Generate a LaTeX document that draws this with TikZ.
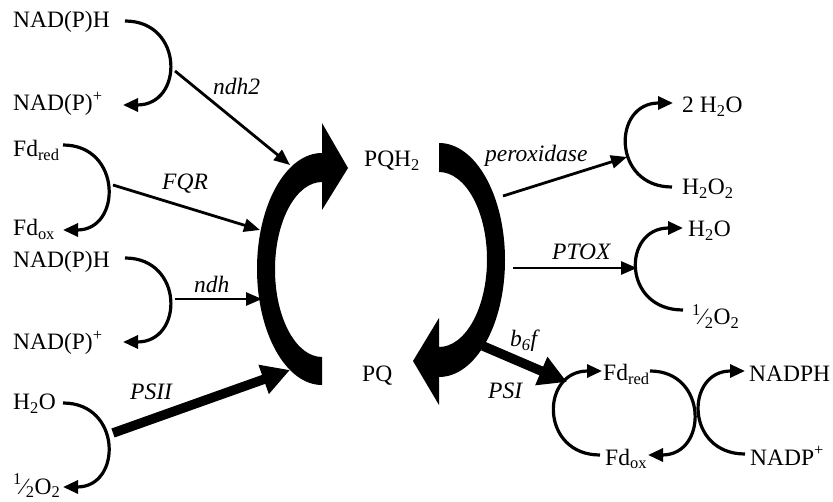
\documentclass[tikz,border=0pt]{standalone}
\usepackage{fontspec}
\setmainfont{Liberation Serif}
\usetikzlibrary{arrows.meta}
\begin{document}
\begin{tikzpicture}[x=1pt,y=-1pt,
  txt/.style={inner sep=0pt, anchor=base west, font=\fontsize{23.5}{27}\selectfont},
  lbl/.style={txt, font=\fontsize{23.5}{27}\selectfont\itshape},
  curvearrow/.style={line width=3.2pt, -{Triangle[length=15pt,width=13pt]}},
  thinarrow/.style={line width=2.8pt, -{Triangle[length=16pt,width=13pt]}},
  thickarrow/.style={line width=9.5pt, -{Triangle[length=28pt,width=29pt]}},
  bigarc/.style={fill=black, draw=none}]
\useasboundingbox (0,0) rectangle (833,502);
% left texts
\node[txt] (nadphA) at (13,28) {NAD(P)H};
\node[txt] (nadpA) at (13,111) {NAD(P)\textsuperscript{+}};
\node[txt] (fdredA) at (13,157) {Fd\textsubscript{red}};
\node[txt] (fdoxA) at (13,236) {Fd\textsubscript{ox}};
\node[txt] (nadphB) at (13,268) {NAD(P)H};
\node[txt] (nadpB) at (13,350) {NAD(P)\textsuperscript{+}};
\node[txt] (h2oA) at (13,410) {H\textsubscript{2}O};
\node[txt] (o2A) at (13,494) {\textsuperscript{1}⁄\textsubscript{2}O\textsubscript{2}};
% centre
\node[txt] (pqh2) at (364,167) {PQH\textsubscript{2}};
\node[txt] (pq) at (362,382) {PQ};
% right texts
\node[txt] (twoh2o) at (682,113) {2 H\textsubscript{2}O};
\node[txt] (h2o2) at (682,195) {H\textsubscript{2}O\textsubscript{2}};
\node[txt] (h2oB) at (688,237) {H\textsubscript{2}O};
\node[txt] (o2B) at (692,325) {\textsuperscript{1}⁄\textsubscript{2}O\textsubscript{2}};
\node[txt] (fdredB) at (603,381) {Fd\textsubscript{red}};
\node[txt] (fdoxB) at (605,465) {Fd\textsubscript{ox}};
\node[txt] (nadph) at (749,382) {NADPH};
\node[txt] (nadp) at (750,465) {NADP\textsuperscript{+}};
% enzyme labels
\node[lbl] (lndhtwo) at (213,95) {ndh2};
\node[lbl] (lfqr) at (162,190) {FQR};
\node[lbl] (lndh) at (194,293) {ndh};
\node[lbl] (lpsii) at (130,400) {PSII};
\node[lbl] (lperox) at (485,162) {peroxidase};
\node[lbl] (lptox) at (552,260) {PTOX};
\node[lbl] (lbsixf) at (510,347) {b\textsubscript{6}f};
\node[lbl] (lpsi) at (488,399) {PSI};
% curve end points
\coordinate (a1) at (125,21);  \coordinate (a2) at (123,105);
\coordinate (b1) at (63,145);  \coordinate (b2) at (63,230);
\coordinate (c1) at (125,258); \coordinate (c2) at (123,342);
\coordinate (d1) at (63,403);  \coordinate (d2) at (63,487);
\coordinate (e1) at (672,187); \coordinate (e2) at (673,103);
\coordinate (f1) at (683,310); \coordinate (f2) at (683,228);
\coordinate (g1) at (600,455); \coordinate (g2) at (602,371);
\coordinate (h1) at (650,371); \coordinate (h2) at (648,455);
\coordinate (i1) at (745,454); \coordinate (i2) at (745,371);
% enzyme arrow ends
\coordinate (ndhtwoS) at (175,71);  \coordinate (ndhtwoE) at (290,165);
\coordinate (fqrS) at (113,185);    \coordinate (fqrE) at (260,230);
\coordinate (ndhS) at (175,299);    \coordinate (ndhE) at (262,299);
\coordinate (psiiS) at (113,433);   \coordinate (psiiE) at (290,370);
\coordinate (peroxS) at (503,196);  \coordinate (peroxE) at (627,157);
\coordinate (ptoxS) at (513,268);   \coordinate (ptoxE) at (637,268);
\coordinate (psiS) at (483,346);    \coordinate (psiE) at (567,382);
% left small curves
\draw[curvearrow] (a1) .. controls (184,21) and (184,105) .. (a2);
\draw[curvearrow] (b1) .. controls (122,145) and (122,230) .. (b2);
\draw[curvearrow] (c1) .. controls (184,258) and (184,342) .. (c2);
\draw[curvearrow] (d1) .. controls (122,403) and (122,487) .. (d2);
% right small curves
\draw[curvearrow] (e1) .. controls (612,187) and (612,103) .. (e2);
\draw[curvearrow] (f1) .. controls (622,310) and (622,228) .. (f2);
\draw[curvearrow] (g1) .. controls (540,455) and (540,371) .. (g2);
\draw[curvearrow] (h1) .. controls (708,371) and (708,455) .. (h2);
\draw[curvearrow] (i1) .. controls (685,454) and (685,371) .. (i2);
% enzyme arrows
\draw[thinarrow] (ndhtwoS) -- (ndhtwoE);
\draw[thinarrow] (fqrS) -- (fqrE);
\draw[thinarrow] (ndhS) -- (ndhE);
\draw[thickarrow] (psiiS) -- (psiiE);
\draw[thinarrow] (peroxS) -- (peroxE);
\draw[thinarrow] (ptoxS) -- (ptoxE);
\draw[thickarrow] (psiS) -- (psiE);
% big left arc (PQ -> PQH2)
\fill[bigarc] (322,385) .. controls (286.1,385) and (257,333.1) .. (257,269)
  .. controls (257,204.9) and (286.1,153) .. (322,153)
  -- (322,123) -- (348,168) -- (322,210) -- (322,182)
  .. controls (296,182) and (275,221.2) .. (275,269.5)
  .. controls (275,317.8) and (296,357) .. (322,357) -- cycle;
% big right arc (PQH2 -> PQ)
\fill[bigarc] (439,143) .. controls (475.5,143) and (505,195.4) .. (505,260)
  .. controls (505,324.6) and (475.5,377) .. (439,377)
  -- (439,405) -- (413,361) -- (439,318) -- (439,347)
  .. controls (465.5,347) and (487,307.8) .. (487,259.5)
  .. controls (487,211.2) and (465.5,172) .. (439,172) -- cycle;
\end{tikzpicture}
\end{document}
